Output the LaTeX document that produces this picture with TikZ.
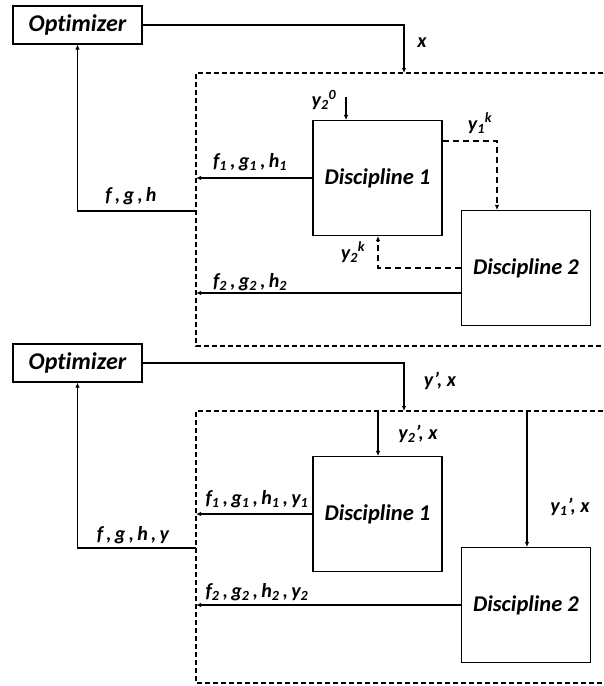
\documentclass[tikz,border=0pt]{standalone}
\usepackage{fontspec}
\setmainfont[Ligatures=NoCommon]{Carlito}
\usetikzlibrary{arrows.meta,positioning}

\begin{document}
\begin{tikzpicture}[x=1pt,y=-1pt,>={Latex[length=5pt,width=4.5pt]},
  block/.style={draw,line width=1.1pt,minimum width=129pt,minimum height=115pt,inner sep=0pt,font=\fontsize{22.5}{24}\selectfont\bfseries\itshape},
  optbox/.style={draw,line width=1.1pt,minimum width=129pt,minimum height=38pt,inner sep=0pt,font=\fontsize{24}{26}\selectfont\bfseries\itshape},
  lbl/.style={inner sep=0pt,font=\fontsize{20}{22}\selectfont\bfseries\itshape},
  wire/.style={line width=1.6pt},
  dwire/.style={line width=1.6pt,dash pattern=on 6pt off 4pt},
  frame/.style={line width=1.6pt,dash pattern=on 5pt off 3pt}]
  \useasboundingbox (0,0) rectangle (603,686);

  % upper scheme
  \node[optbox] (opt1) at (77.5,25) {Optimizer};
  \node[block] (dA1) at (377.5,178) {Discipline 1};
  \node[block] (dB1) at (526,268) {Discipline 2};
  \draw[frame] (603,73) -- (196,73) -- (196,346) -- (603,346);
  \coordinate (top1) at (404,73);
  \coordinate (wall1) at (196,0);
  \coordinate (back1) at (196,211);
  \coordinate (y20) at (346,97);
  \draw[wire,->] (opt1.east) -| (top1);
  \draw[wire,->] (dA1.west) -- (dA1.west -| wall1);
  \draw[wire,->] (dB1.west |- 0,293) -- (wall1 |- 0,293);
  \draw[wire,->] (back1) -| (opt1.south);
  \draw[wire,->] (y20) -- (y20 |- dA1.north);
  \draw[dwire,->] (dA1.east |- 0,141) -| (dB1.north -| 497,0);
  \draw[dwire,->] (dB1.west) -| (dA1.south -| 378,0);
  \node[lbl] (lx1) at (422,43) {x};
  \node[lbl] (lfgh1) at (131,196) {f\,,\,g\,,\,h};
  \node[lbl] (lA1) at (250,162) {f\textsubscript{1}\,,\,g\textsubscript{1}\,,\,h\textsubscript{1}};
  \node[lbl] (lB1) at (250,282) {f\textsubscript{2}\,,\,g\textsubscript{2}\,,\,h\textsubscript{2}};
  \node[lbl] (ly20) at (324,100) {y\textsubscript{2}\textsuperscript{0}};
  \node[lbl] (ly1k) at (480,123) {y\textsubscript{1}\textsuperscript{k}};
  \node[lbl] (ly2k) at (353,252) {y\textsubscript{2}\textsuperscript{k}};

  % lower scheme
  \node[optbox] (opt2) at (77.5,363) {Optimizer};
  \node[block] (dA2) at (377.5,514) {Discipline 1};
  \node[block] (dB2) at (526,605) {Discipline 2};
  \draw[frame] (603,411) -- (196,411) -- (196,683) -- (603,683);
  \coordinate (top2) at (404,411);
  \coordinate (wall2) at (196,0);
  \coordinate (back2) at (196,548);
  \coordinate (tapA) at (378,411);
  \coordinate (tapB) at (527,411);
  \draw[wire,->] (opt2.east) -| (top2);
  \draw[wire,->] (dA2.west) -- (dA2.west -| wall2);
  \draw[wire,->] (dB2.west) -- (dB2.west -| wall2);
  \draw[wire,->] (back2) -| (opt2.south);
  \draw[wire,->] (tapA) -- (tapA |- dA2.north);
  \draw[wire,->] (tapB) -- (tapB |- dB2.north);
  \node[lbl] (lyx2) at (440,381) {y’, x};
  \node[lbl] (lfgh2) at (133,535) {f\,,\,g\,,\,h\,,\,y};
  \node[lbl] (lA2) at (257,499) {f\textsubscript{1}\,,\,g\textsubscript{1}\,,\,h\textsubscript{1}\,,\,y\textsubscript{1}};
  \node[lbl] (lB2) at (257,592) {f\textsubscript{2}\,,\,g\textsubscript{2}\,,\,h\textsubscript{2}\,,\,y\textsubscript{2}};
  \node[lbl] (ly2p) at (418,434) {y\textsubscript{2}’, x};
  \node[lbl] (ly1p) at (570,507) {y\textsubscript{1}’, x};
\end{tikzpicture}
\end{document}
